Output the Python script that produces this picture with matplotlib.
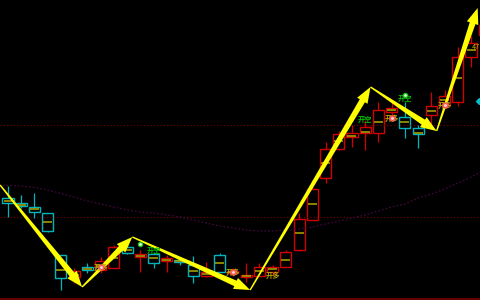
import numpy as np
import matplotlib
matplotlib.use("Agg")
import matplotlib.pyplot as plt
from matplotlib.patches import Rectangle, Polygon

plt.rcParams['font.family'] = ['Noto Sans CJK SC', 'DejaVu Sans']

# ---- data (price units) ----
opens  = [102, 97, 93, 87, 45, 23, 33, 30, 32, 53, 43, 46, 39, 40, 35, 24, 45, 27, 23, 24, 28, 33, 50, 80,
          122, 151, 163, 167, 167, 188, 183, 172, 185, 195, 198, 243, 265]
highs  = [114, 105, 107, 87, 45, 32, 37, 43, 55, 57, 50, 48, 45, 43, 44, 38, 47, 32, 37, 37, 35, 50, 87, 120,
          158, 169, 175, 180, 198, 198, 198, 175, 208, 210, 253, 264, 285]
lows   = [83, 92, 82, 68, 10, 17, 27, 27, 32, 46, 28, 32, 28, 35, 17, 23, 28, 24, 18, 24, 24, 33, 49, 80,
          117, 150, 153, 150, 158, 180, 162, 152, 175, 192, 194, 233, 260]
closes = [97, 94, 88, 69, 22, 29, 30, 39, 53, 47, 46, 37, 42, 38, 24, 28, 28, 29, 25, 33, 33, 48, 81, 111,
          151, 166, 167, 173, 190, 192, 172, 166, 194, 204, 243, 257, 275]
mids   = [99, 95, 91, 78, 30, 25, 31, 34, 42, 50, 44, 42, 40, 39, 29, 26, 37, 28, 24, 29, 31, 40, 67, 96,
          137, 159, 164, 168, 178, 190, 178, 167, 189, 200, 222, 250, 270]
ma_values = [115, 114.5, 114, 112.5, 110, 106.5, 103, 99, 96, 93, 90, 88, 87, 85, 83, 80, 77, 74, 72, 70, 69,
             69, 70, 71, 73, 76, 79, 82, 85, 89, 93, 96, 102, 106, 111, 117, 123, 130]  # from index -1
level_lines = [175, 83]
bottom_line = 1

long_idx = [7, 17, 20, 29, 33]
long_price = [33, 28, 25, 182, 195]
long_dot = [True, True, False, True, True]
short_idx = [11, 27, 30]
short_price = [50, 181, 202]
short_dot_idx = [10, 30]
short_dot_price = [56, 205]

pivot_idx = [-0.6, 5.6, 9.4, 18.3, 27.4, 32.4, 35.5]
pivot_price = [115, 13, 63, 10, 213, 169, 292]

price_tag_idx = 35.05
price_tag_price = 253
price_tag_text = "47"
cyan_mark = (35.6, 199)

# ---- figure ----
fig = plt.figure(figsize=(4.8, 3.0), dpi=100, facecolor='black')
ax = fig.add_axes([0, 0, 1, 1])
ax.set_facecolor('black')
step = 13.23
ax.set_xlim(-8 / step, (480 - 8) / step)
ax.set_ylim(0, 300)
ax.axis('off')

RED = '#d40000'
CYAN = '#00b4be'
MID = '#b4a800'
bw = 0.84

for lv in level_lines:
    ax.axhline(lv, color='#7a0000', lw=0.8, ls=(0, (1, 2)))
ax.axhline(bottom_line, color='#7a0000', lw=1.2)

ma_x = np.arange(-1, len(ma_values) - 1)
ax.plot(ma_x, ma_values, color='#3c0838', lw=0.9, ls=(0, (1.5, 1.5)))

for i, (o, h, l, c, m) in enumerate(zip(opens, highs, lows, closes, mids)):
    col = RED if c >= o else CYAN
    top, bot = max(o, c), min(o, c)
    if h > top:
        ax.plot([i, i], [top, h], color=col, lw=0.9, solid_capstyle='butt')
    if l < bot:
        ax.plot([i, i], [l, bot], color=col, lw=0.9, solid_capstyle='butt')
    ax.plot([i - bw / 2 + 0.08, i + bw / 2 - 0.08], [m, m], color=MID, lw=1.1, solid_capstyle='butt')
    ax.add_patch(Rectangle((i - bw / 2, bot), bw, max(top - bot, 1.2), facecolor='none',
                           edgecolor=col, lw=1.0))

# arrows
tr = ax.transData
pts = tr.transform(np.column_stack([pivot_idx, pivot_price]))
for k in range(len(pts) - 1):
    S, E = pts[k], pts[k + 1]
    d = E - S
    L = np.hypot(*d)
    d = d / L
    n = np.array([-d[1], d[0]])
    hl = 16.0
    hw = 6.0
    B = E - hl * d
    w0, w1 = 0.7, 3.0
    poly = [S + w0 * n, B + w1 * n, B + hw * n, E, B - hw * n, B - w1 * n, S - w0 * n]
    ax.add_patch(Polygon(poly, closed=True, transform=None, facecolor='#ffff00',
                         edgecolor='none', zorder=5))

for i, p, dot in zip(long_idx, long_price, long_dot):
    ax.text(i, p, "开多", color='#b8a800', fontsize=5.2, ha='center', va='center',
            fontweight='bold', zorder=6)
    if dot:
        ax.plot(i, p, 'o', ms=3.5, color='#ff2020', mec='#ff6060', zorder=7)
        ax.plot(i, p, 'o', ms=1.2, color='#ffd0d0', zorder=8)
for i, p in zip(short_idx, short_price):
    ax.text(i, p, "开空", color='#00c000', fontsize=5.2, ha='center', va='center',
            fontweight='bold', zorder=6)
for i, p in zip(short_dot_idx, short_dot_price):
    ax.plot(i, p, 'o', ms=3, color='#20c020', zorder=7)
    ax.plot(i, p, 'o', ms=1.0, color='#e0ffe0', zorder=8)

ax.text(price_tag_idx, price_tag_price, price_tag_text, color='#c8b400', fontsize=5.2,
        ha='left', va='center', zorder=6, clip_on=True)
ax.plot(*cyan_mark, 'D', ms=3, color='#00c0c8', zorder=6)

fig.savefig('out.png', dpi=100, facecolor='black')
